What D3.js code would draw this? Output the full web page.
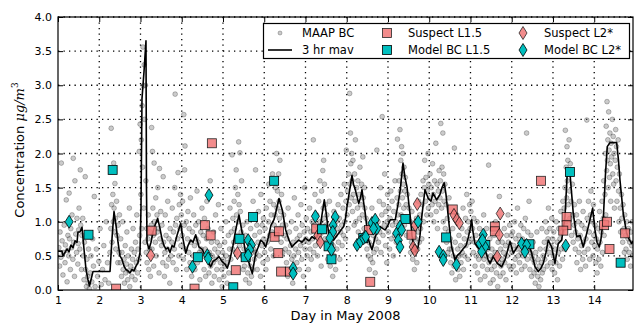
<!DOCTYPE html>
<html>
<head>
<meta charset="utf-8">
<script src="https://cdn.jsdelivr.net/npm/d3@7"></script>
<style>
body { margin: 0; background: #fff; }
svg { display: block; font-family: "DejaVu Sans", sans-serif; }
</style>
</head>
<body>
<svg id="chart" width="635" height="328"></svg>
<script>
// ticks
const xTicks = [1, 2, 3, 4, 5, 6, 7, 8, 9, 10, 11, 12, 13, 14];
const yTicks = [0, 0.5, 1, 1.5, 2, 2.5, 3, 3.5, 4];

// 3 hr moving average [day, ug/m3]
const mavPoints = [
  [1.000,0.57],[1.097,0.57],[1.121,0.50],[1.170,0.55],[1.218,0.60],[1.267,0.56],[1.315,0.66],[1.364,0.62],[1.412,0.72],[1.461,0.70],
  [1.485,0.85],[1.533,0.85],[1.582,0.92],[1.630,0.60],[1.679,0.30],[1.727,0.15],[1.764,0.06],[1.800,0.15],[1.848,0.27],[2.261,0.27],
  [2.309,0.75],[2.358,1.15],[2.406,0.95],[2.455,0.70],[2.503,0.50],[2.552,0.45],[2.600,0.35],[2.648,0.30],[2.697,0.28],[2.745,0.25],
  [2.794,0.30],[2.842,0.28],[2.891,0.35],[2.939,0.40],[2.988,0.55],[3.012,1.20],[3.036,2.80],[3.085,3.20],[3.133,3.65],[3.145,1.50],
  [3.158,0.70],[3.206,0.60],[3.255,0.70],[3.303,0.85],[3.352,0.95],[3.417,1.05],[3.473,0.90],[3.521,0.75],[3.570,0.65],[3.618,0.60],
  [3.667,0.62],[3.715,0.55],[3.764,0.65],[3.812,0.63],[3.885,0.80],[3.975,0.98],[4.030,0.75],[4.096,0.54],[4.152,0.65],[4.217,0.73],
  [4.273,0.70],[4.338,0.81],[4.418,0.63],[4.491,0.60],[4.539,0.54],[4.612,0.45],[4.702,0.34],[4.758,0.42],[4.830,0.45],[4.903,0.49],
  [4.976,0.42],[5.048,0.38],[5.104,0.32],[5.170,0.45],[5.242,0.65],[5.308,0.88],[5.388,1.10],[5.461,0.85],[5.550,0.54],[5.630,0.40],
  [5.710,0.24],[5.793,0.54],[5.848,0.62],[5.914,0.73],[5.970,0.70],[6.035,0.63],[6.091,0.75],[6.164,0.95],[6.236,1.03],[6.285,1.15],
  [6.358,1.34],[6.438,1.17],[6.520,0.88],[6.600,0.73],[6.673,0.63],[6.745,0.68],[6.835,0.73],[6.915,0.70],[6.995,0.76],[7.085,0.72],
  [7.158,0.78],[7.230,0.75],[7.279,0.78],[7.352,0.90],[7.400,1.10],[7.456,1.32],[7.497,1.15],[7.521,1.03],[7.562,0.83],[7.618,0.78],
  [7.684,0.73],[7.739,0.78],[7.805,0.83],[7.861,0.88],[7.926,0.93],[7.970,1.05],[8.006,1.22],[8.067,1.45],[8.127,1.68],[8.164,1.55],
  [8.207,1.47],[8.290,1.27],[8.333,1.35],[8.370,1.47],[8.406,1.30],[8.450,1.12],[8.491,0.90],[8.532,0.73],[8.612,0.59],[8.692,0.78],
  [8.758,0.88],[8.813,0.93],[8.879,0.90],[8.935,0.88],[9.000,0.95],[9.056,1.03],[9.177,1.03],[9.242,1.25],[9.298,1.47],[9.364,1.86],
  [9.412,1.65],[9.461,1.51],[9.541,1.07],[9.582,0.80],[9.630,0.60],[9.679,0.55],[9.727,0.62],[9.776,0.80],[9.824,1.10],[9.897,1.47],
  [9.977,1.34],[10.042,1.30],[10.091,1.42],[10.181,1.32],[10.261,1.40],[10.309,1.50],[10.365,1.57],[10.406,1.40],[10.486,0.93],[10.544,0.63],
  [10.624,0.44],[10.673,0.50],[10.745,0.54],[10.818,0.60],[10.891,0.65],[10.939,0.75],[10.988,0.88],[11.029,1.03],[11.061,0.85],[11.109,0.68],
  [11.182,0.62],[11.230,0.59],[11.303,0.62],[11.376,0.55],[11.424,0.45],[11.473,0.39],[11.553,0.49],[11.594,0.45],[11.650,0.39],[11.715,0.36],
  [11.756,0.34],[11.836,0.44],[11.909,0.60],[11.958,0.71],[12.038,0.54],[12.103,0.60],[12.152,0.65],[12.241,0.68],[12.297,0.72],[12.362,0.70],
  [12.418,0.65],[12.484,0.54],[12.564,0.34],[12.644,0.27],[12.709,0.32],[12.765,0.39],[12.830,0.55],[12.885,0.73],[12.968,0.63],[13.048,0.39],
  [13.128,0.68],[13.211,0.73],[13.291,1.07],[13.347,1.73],[13.412,1.71],[13.492,1.12],[13.575,0.78],[13.655,0.80],[13.735,0.63],[13.817,0.83],
  [13.897,1.03],[13.962,1.20],[14.018,0.88],[14.067,0.70],[14.123,0.63],[14.164,0.75],[14.219,1.03],[14.273,1.70],[14.316,2.10],[14.382,2.16],
  [14.544,2.16],[14.588,1.90],[14.624,1.61],[14.704,1.12],[14.787,0.83],[14.842,0.75],[14.908,0.68],[14.939,0.72]
];

// MAAP BC samples [day, ug/m3]
const maapPoints = [
  [1.02,0.62],[1.04,0.35],[1.05,0.85],[1.07,0.48],[1.08,1.86],[1.1,0.72],[1.12,0.22],[1.13,0.55],[1.15,0.95],[1.17,0.4],[1.18,0.66],[1.2,1.32],[1.22,0.12],[1.23,0.58],[1.24,0.8],
  [1.26,0.5],[1.27,1.42],[1.28,0.75],[1.3,0.3],[1.31,0.9],[1.33,0.62],[1.34,1.1],[1.36,0.45],[1.37,1.93],[1.38,0.7],[1.4,0.2],[1.41,1.6],[1.43,0.82],[1.45,0.55],[1.46,1.05],[1.48,0.38],[1.49,0.68],
  [1.5,0.88],[1.51,1.2],[1.53,0.6],[1.54,1.76],[1.55,0.95],[1.57,0.3],[1.58,0.8],[1.6,1.05],[1.61,0.5],[1.63,0.15],[1.64,0.7],[1.66,1.66],[1.67,0.3],[1.69,0.05],[1.7,0.45],[1.72,0.2],[1.73,0.1],[1.74,0.6],
  [1.76,0.02],[1.78,0.25],[1.8,0.5],[1.82,0.12],[1.84,0.75],[1.86,0.35],[1.88,1.37],[1.9,0.05],[1.93,0.6],[1.96,0.2],[1.99,0.42],[2.02,0.9],[2.05,0.08],[2.08,0.3],[2.11,0.65],[2.14,0.15],[2.17,1.0],[2.2,0.4],[2.23,0.1],
  [2.26,0.55],[2.28,0.9],[2.29,2.37],[2.3,1.25],[2.31,0.7],[2.33,1.4],[2.34,1.0],[2.35,1.86],[2.36,1.2],[2.37,0.85],[2.38,1.56],[2.39,1.05],[2.4,0.6],[2.42,1.3],[2.43,0.8],[2.45,0.4],[2.46,0.95],[2.48,0.55],[2.49,1.1],
  [2.51,0.4],[2.52,0.75],[2.54,0.2],[2.55,0.55],[2.57,1.0],[2.58,0.3],[2.6,0.45],[2.61,0.1],[2.63,0.65],[2.64,0.25],[2.66,0.38],[2.67,0.85],[2.69,0.15],[2.7,0.5],[2.72,0.28],[2.73,1.2],[2.74,0.05],
  [2.76,0.35],[2.78,0.6],[2.79,0.2],[2.81,0.45],[2.82,0.9],[2.84,0.3],[2.85,0.55],[2.87,0.15],[2.88,0.7],[2.9,0.4],[2.91,1.1],[2.93,0.25],[2.94,0.6],[2.96,0.45],[2.97,2.03],[2.98,0.8],[2.99,2.43],
  [3.01,1.4],[3.02,2.2],[3.03,0.9],[3.04,2.7],[3.05,1.8],[3.06,3.56],[3.07,2.99],[3.08,1.2],[3.09,3.3],[3.1,2.5],[3.11,0.7],[3.12,3.0],[3.13,1.6],[3.14,0.55],[3.15,0.9],[3.16,0.4],[3.18,0.75],[3.19,1.1],[3.2,0.3],[3.22,0.6],[3.23,0.85],[3.24,0.2],
  [3.26,0.95],[3.27,2.38],[3.28,0.6],[3.29,2.03],[3.3,1.2],[3.31,0.8],[3.32,0.35],[3.33,1.86],[3.34,1.0],[3.36,0.7],[3.37,1.35],[3.38,0.5],[3.4,1.1],[3.41,0.85],[3.42,1.5],[3.43,0.9],[3.45,0.25],[3.46,1.78],[3.47,0.75],[3.49,1.15],
  [3.51,0.65],[3.52,0.95],[3.54,0.4],[3.55,1.66],[3.56,0.7],[3.58,0.2],[3.59,0.55],[3.6,1.1],[3.62,0.8],[3.63,0.35],[3.65,0.6],[3.66,1.3],[3.68,0.45],[3.69,0.75],[3.71,0.1],[3.72,0.9],[3.74,0.5],
  [3.76,0.7],[3.77,1.2],[3.79,0.4],[3.8,0.85],[3.82,0.6],[3.83,1.5],[3.84,2.87],[3.85,0.95],[3.87,0.3],[3.88,1.05],[3.9,0.75],[3.91,1.72],[3.93,0.5],[3.94,1.25],[3.96,0.9],[3.97,1.4],[3.98,0.65],[3.99,1.1],
  [4.01,0.8],[4.02,1.3],[4.04,0.45],[4.05,2.57],[4.06,0.95],[4.07,1.76],[4.08,2.11],[4.09,0.6],[4.11,1.0],[4.12,0.3],[4.14,0.75],[4.15,1.15],[4.17,0.55],[4.18,0.9],[4.2,0.4],[4.21,1.35],[4.23,0.7],[4.24,0.2],
  [4.26,0.85],[4.28,0.5],[4.29,1.1],[4.31,0.65],[4.32,0.3],[4.34,0.95],[4.35,0.75],[4.37,1.45],[4.38,0.4],[4.4,0.7],[4.41,1.0],[4.43,0.55],[4.44,0.15],[4.46,0.85],[4.47,0.6],[4.49,1.2],
  [4.51,0.5],[4.52,0.8],[4.54,0.3],[4.55,1.05],[4.57,0.6],[4.58,0.2],[4.6,0.75],[4.61,1.3],[4.63,0.45],[4.64,0.9],[4.66,0.25],[4.67,0.55],[4.69,1.6],[4.7,0.35],[4.72,0.7],[4.73,0.1],[4.74,0.5],
  [4.76,0.4],[4.77,0.85],[4.79,0.2],[4.8,0.6],[4.82,1.1],[4.83,0.45],[4.85,0.3],[4.86,0.7],[4.88,0.55],[4.89,1.25],[4.91,0.15],[4.92,0.65],[4.94,0.4],[4.95,0.9],[4.97,0.3],[4.98,0.05],[4.99,0.55],
  [5.01,0.45],[5.02,0.2],[5.04,0.7],[5.05,0.35],[5.07,1.0],[5.08,0.5],[5.1,0.1],[5.11,0.4],[5.13,0.8],[5.14,0.25],[5.16,0.6],[5.17,1.2],[5.19,0.45],[5.2,0.85],[5.22,1.98],[5.23,0.6],[5.24,1.05],
  [5.26,0.7],[5.27,1.3],[5.28,0.9],[5.3,1.5],[5.31,0.55],[5.32,1.76],[5.33,1.1],[5.35,0.8],[5.36,1.4],[5.37,1.0],[5.38,2.17],[5.39,1.25],[5.4,0.65],[5.41,2.01],[5.42,1.15],[5.44,0.85],[5.45,1.6],[5.46,0.5],[5.48,0.95],[5.49,0.3],
  [5.51,0.6],[5.52,0.35],[5.54,0.8],[5.55,0.15],[5.57,0.5],[5.58,1.0],[5.6,0.25],[5.61,0.45],[5.63,0.7],[5.64,0.1],[5.66,0.35],[5.67,0.9],[5.69,0.2],[5.7,0.55],[5.72,0.3],[5.73,1.3],[5.74,0.6],
  [5.76,0.45],[5.77,0.8],[5.79,1.76],[5.8,0.55],[5.82,0.95],[5.83,0.3],[5.85,0.7],[5.86,1.15],[5.88,0.5],[5.89,0.85],[5.91,0.2],[5.92,1.4],[5.94,0.65],[5.95,0.95],[5.97,0.4],[5.98,1.05],[5.99,0.75],
  [6.01,0.55],[6.02,0.9],[6.04,0.3],[6.05,1.2],[6.07,0.7],[6.08,0.45],[6.1,1.0],[6.11,1.55],[6.13,0.8],[6.14,1.3],[6.16,0.6],[6.17,1.1],[6.19,0.85],[6.2,1.7],[6.22,0.5],[6.23,1.25],[6.24,0.95],
  [6.26,1.1],[6.27,1.5],[6.28,0.8],[6.3,2.0],[6.31,1.2],[6.32,1.45],[6.34,0.9],[6.35,1.7],[6.36,1.3],[6.37,1.05],[6.38,1.9],[6.4,1.15],[6.41,0.7],[6.42,1.4],[6.44,0.95],[6.45,0.55],[6.47,1.1],[6.48,0.8],
  [6.51,0.6],[6.52,0.95],[6.54,0.4],[6.55,0.75],[6.57,0.2],[6.58,1.2],[6.6,0.55],[6.61,0.85],[6.63,0.3],[6.64,0.65],[6.66,1.0],[6.67,0.45],[6.69,0.1],[6.7,0.7],[6.72,0.5],[6.73,1.35],[6.74,0.25],
  [6.76,0.6],[6.77,0.9],[6.79,0.4],[6.8,0.75],[6.82,1.1],[6.83,0.55],[6.85,0.3],[6.86,0.8],[6.88,0.65],[6.89,1.25],[6.91,0.45],[6.92,0.95],[6.94,0.7],[6.95,0.2],[6.97,0.85],[6.98,1.5],[6.99,0.6],
  [7.01,0.75],[7.02,1.05],[7.04,0.5],[7.05,0.9],[7.07,0.3],[7.08,0.7],[7.1,1.2],[7.11,0.6],[7.13,0.85],[7.14,0.45],[7.16,1.0],[7.17,0.75],[7.19,2.2],[7.2,0.55],[7.22,0.95],[7.23,1.4],[7.24,0.65],
  [7.26,0.8],[7.27,1.1],[7.29,0.5],[7.3,0.9],[7.32,1.3],[7.33,0.7],[7.35,1.6],[7.36,1.0],[7.38,0.35],[7.39,1.45],[7.41,0.85],[7.42,1.75],[7.43,1.2],[7.44,1.9],[7.45,1.05],[7.46,1.55],[7.47,0.75],[7.48,1.25],[7.49,0.95],
  [7.51,0.7],[7.52,1.1],[7.54,0.45],[7.55,0.85],[7.57,0.6],[7.58,1.3],[7.6,0.35],[7.61,0.75],[7.63,0.55],[7.64,0.95],[7.66,0.2],[7.67,0.65],[7.69,1.15],[7.7,0.5],[7.72,0.8],[7.73,0.3],[7.74,1.0],
  [7.76,0.6],[7.77,0.9],[7.79,1.25],[7.8,0.7],[7.82,1.05],[7.83,0.45],[7.85,0.85],[7.86,1.4],[7.88,0.95],[7.89,0.65],[7.91,1.2],[7.92,0.8],[7.94,1.55],[7.95,1.0],[7.97,0.75],[7.98,1.3],[7.99,2.05],
  [8.01,1.1],[8.02,1.45],[8.03,0.9],[8.05,1.7],[8.06,1.25],[8.07,2.88],[8.08,1.55],[8.09,2.3],[8.1,1.85],[8.11,1.35],[8.12,2.0],[8.13,1.6],[8.14,1.15],[8.15,1.9],[8.16,1.4],[8.18,0.95],[8.19,1.7],[8.2,1.3],[8.21,2.2],[8.22,1.0],[8.24,1.5],
  [8.26,1.2],[8.27,1.6],[8.28,0.85],[8.3,1.4],[8.31,1.05],[8.32,1.8],[8.34,1.25],[8.35,0.7],[8.36,1.55],[8.38,1.1],[8.39,1.95],[8.4,1.35],[8.42,0.9],[8.43,1.5],[8.44,1.2],[8.46,0.75],[8.47,1.05],[8.49,0.6],
  [8.51,0.85],[8.52,0.5],[8.54,0.7],[8.55,0.3],[8.57,0.95],[8.58,0.45],[8.6,0.65],[8.61,1.2],[8.63,0.4],[8.64,0.8],[8.66,0.55],[8.67,1.05],[8.69,0.25],[8.7,0.75],[8.72,0.6],[8.73,2.05],[8.74,0.9],
  [8.76,1.0],[8.77,0.7],[8.79,1.3],[8.8,0.85],[8.82,1.5],[8.83,0.55],[8.85,1.1],[8.86,2.54],[8.88,0.8],[8.89,1.25],[8.91,0.95],[8.92,1.7],[8.94,0.65],[8.95,1.15],[8.97,0.4],[8.98,1.0],[8.99,1.4],
  [9.01,0.85],[9.02,1.2],[9.04,0.6],[9.05,1.05],[9.07,1.45],[9.08,0.75],[9.1,1.3],[9.11,0.95],[9.13,0.5],[9.14,1.15],[9.16,0.8],[9.17,1.6],[9.19,1.0],[9.2,0.7],[9.22,1.35],[9.23,2.21],[9.24,1.1],
  [9.26,1.25],[9.27,1.6],[9.28,0.9],[9.29,2.35],[9.3,1.45],[9.31,1.9],[9.32,1.1],[9.33,2.1],[9.34,1.7],[9.35,1.35],[9.36,2.0],[9.37,1.55],[9.38,1.2],[9.39,1.8],[9.4,0.95],[9.41,1.45],[9.42,1.65],[9.44,1.25],[9.45,0.8],[9.47,1.4],[9.48,1.05],
  [9.51,1.2],[9.52,0.8],[9.54,1.0],[9.55,0.55],[9.57,0.7],[9.58,1.15],[9.6,0.45],[9.61,0.65],[9.63,0.9],[9.64,0.3],[9.66,0.55],[9.67,0.75],[9.69,1.05],[9.7,0.4],[9.72,0.6],[9.73,0.85],[9.74,1.3],
  [9.76,0.7],[9.77,1.1],[9.79,0.9],[9.8,1.4],[9.82,0.75],[9.83,1.25],[9.85,1.6],[9.86,1.0],[9.88,1.5],[9.89,1.9],[9.91,1.3],[9.92,1.65],[9.94,1.1],[9.95,1.45],[9.97,2.0],[9.98,1.2],[9.99,1.55],
  [10.01,1.35],[10.02,1.7],[10.04,1.1],[10.05,1.5],[10.07,1.25],[10.08,1.85],[10.1,1.4],[10.11,1.0],[10.13,1.6],[10.14,1.3],[10.16,2.15],[10.17,1.15],[10.19,1.55],[10.2,0.9],[10.22,1.45],[10.23,1.25],[10.24,1.75],
  [10.26,1.35],[10.27,1.6],[10.28,2.44],[10.3,1.2],[10.31,1.8],[10.32,1.45],[10.33,2.3],[10.34,1.0],[10.35,1.7],[10.36,1.3],[10.38,1.55],[10.39,0.9],[10.41,1.25],[10.42,0.7],[10.44,1.05],[10.45,0.55],[10.47,0.85],[10.48,1.35],[10.49,0.6],
  [10.51,0.75],[10.52,0.4],[10.54,0.6],[10.55,0.25],[10.57,0.9],[10.58,0.5],[10.6,0.35],[10.61,2.08],[10.63,0.7],[10.64,0.15],[10.66,0.45],[10.67,1.1],[10.69,0.6],[10.7,0.3],[10.72,0.8],[10.73,0.5],[10.74,0.2],
  [10.76,0.65],[10.77,0.4],[10.79,0.9],[10.8,0.55],[10.82,1.2],[10.83,0.3],[10.85,0.75],[10.86,0.5],[10.88,1.05],[10.89,0.65],[10.91,1.4],[10.92,0.85],[10.94,0.45],[10.95,1.0],[10.97,0.7],[10.98,1.25],[10.99,0.9],
  [11.01,1.15],[11.02,0.75],[11.04,1.3],[11.05,0.9],[11.07,0.55],[11.08,1.05],[11.1,0.7],[11.11,0.35],[11.13,0.8],[11.14,0.5],[11.16,1.0],[11.17,0.25],[11.19,0.65],[11.2,0.45],[11.22,0.9],[11.23,0.6],[11.24,0.15],
  [11.26,0.55],[11.27,0.8],[11.29,0.35],[11.3,0.65],[11.32,1.1],[11.33,0.45],[11.35,0.2],[11.36,0.7],[11.38,0.5],[11.39,0.9],[11.41,0.3],[11.42,0.6],[11.44,1.83],[11.45,0.4],[11.47,0.75],[11.48,0.1],[11.49,0.5],
  [11.51,0.3],[11.52,0.6],[11.54,0.45],[11.55,0.15],[11.57,0.8],[11.58,0.35],[11.6,0.55],[11.61,1.0],[11.63,0.25],[11.64,0.5],[11.66,0.05],[11.67,0.7],[11.69,0.4],[11.7,1.37],[11.72,0.2],[11.73,0.6],[11.74,0.35],
  [11.76,0.45],[11.77,0.7],[11.79,0.25],[11.8,0.55],[11.82,0.9],[11.83,0.4],[11.85,0.65],[11.86,0.15],[11.88,0.8],[11.89,0.5],[11.91,1.1],[11.92,0.7],[11.94,0.35],[11.95,0.95],[11.97,0.6],[11.98,0.3],[11.99,0.8],
  [12.01,0.55],[12.02,0.85],[12.04,0.35],[12.05,0.65],[12.07,1.0],[12.08,0.45],[12.1,0.75],[12.11,0.25],[12.13,0.6],[12.14,1.2],[12.16,0.5],[12.17,0.8],[12.19,0.4],[12.2,0.7],[12.22,0.95],[12.23,0.55],[12.24,0.3],
  [12.26,0.75],[12.27,0.5],[12.29,0.9],[12.3,0.6],[12.32,0.35],[12.33,1.05],[12.35,0.7],[12.36,2.3],[12.38,0.45],[12.39,0.85],[12.41,0.6],[12.42,1.3],[12.44,0.3],[12.45,0.55],[12.47,0.8],[12.48,0.2],[12.49,0.5],
  [12.51,0.45],[12.52,0.7],[12.54,0.25],[12.55,0.4],[12.57,0.1],[12.58,0.55],[12.6,0.3],[12.61,0.85],[12.63,0.2],[12.64,0.45],[12.66,0.05],[12.67,0.35],[12.69,0.6],[12.7,0.15],[12.72,0.4],[12.73,0.9],[12.74,0.25],
  [12.76,0.5],[12.77,0.3],[12.79,0.7],[12.8,0.45],[12.82,1.0],[12.83,0.6],[12.85,0.85],[12.86,0.35],[12.88,0.75],[12.89,1.2],[12.91,0.55],[12.92,0.9],[12.94,0.4],[12.95,0.65],[12.97,1.05],[12.98,0.3],[12.99,0.75],
  [13.01,0.5],[13.02,0.85],[13.04,0.25],[13.05,0.6],[13.07,0.4],[13.08,1.0],[13.1,0.7],[13.11,0.15],[13.13,0.55],[13.14,0.9],[13.16,0.35],[13.17,0.75],[13.19,1.15],[13.2,0.6],[13.22,0.85],[13.23,0.45],[13.24,1.3],
  [13.26,0.9],[13.27,1.2],[13.28,0.6],[13.29,1.5],[13.3,2.34],[13.31,1.0],[13.32,1.8],[13.33,1.35],[13.34,2.1],[13.35,1.6],[13.36,1.9],[13.37,1.25],[13.38,1.7],[13.39,2.2],[13.4,1.45],[13.41,1.05],[13.42,1.85],[13.44,1.3],[13.45,0.8],[13.47,1.55],[13.48,1.1],[13.49,0.7],
  [13.51,0.95],[13.52,1.25],[13.54,0.6],[13.55,0.85],[13.57,1.1],[13.58,0.4],[13.6,0.75],[13.61,1.0],[13.63,0.55],[13.64,1.3],[13.66,0.8],[13.67,0.3],[13.69,0.65],[13.7,0.95],[13.72,0.45],[13.73,1.15],[13.74,0.7],
  [13.76,0.55],[13.77,0.9],[13.79,0.35],[13.8,0.75],[13.82,2.49],[13.83,1.05],[13.85,0.6],[13.86,1.3],[13.88,0.85],[13.89,0.45],[13.91,1.1],[13.92,1.45],[13.94,0.7],[13.95,1.0],[13.97,0.5],[13.98,1.25],[13.99,0.8],
  [14.01,0.65],[14.02,0.95],[14.04,0.4],[14.05,0.75],[14.07,0.25],[14.08,0.6],[14.1,0.9],[14.11,0.45],[14.13,1.15],[14.14,0.7],[14.16,0.35],[14.17,0.85],[14.19,1.3],[14.2,0.55],[14.22,1.05],[14.23,1.6],[14.24,0.8],
  [14.26,1.4],[14.27,2.0],[14.28,1.1],[14.29,2.4],[14.3,1.75],[14.31,2.76],[14.32,1.9],[14.33,2.2],[14.34,1.5],[14.35,2.61],[14.36,2.05],[14.37,1.65],[14.38,2.3],[14.39,1.85],[14.4,1.3],[14.41,2.15],[14.42,1.95],[14.44,2.5],[14.45,1.7],[14.46,2.25],[14.47,1.55],[14.48,2.0],[14.49,1.2],
  [14.51,1.9],[14.52,2.35],[14.53,1.6],[14.54,2.1],[14.55,1.3],[14.56,1.8],[14.58,2.2],[14.59,1.45],[14.6,1.0],[14.61,1.7],[14.63,1.2],[14.64,0.85],[14.66,1.4],[14.67,1.05],[14.69,0.7],[14.7,1.25],[14.72,0.9],[14.73,0.55],[14.74,1.1],
  [14.76,0.8],[14.77,0.6],[14.79,1.0],[14.8,0.45],[14.82,0.75],[14.83,0.9],[14.85,0.55],[14.86,0.7],[14.88,0.35],[14.89,0.85],[14.91,0.65],[14.92,1.0],[14.93,0.5]
];

// flagged / model points [day, ug/m3]
const suspectL15 = [
  [2.41,0.02],[3.27,0.87],[4.73,2.15],[4.56,0.95],[4.70,0.80],[4.31,0.02],[5.31,0.29],[6.25,0.78],[6.36,0.86],[6.34,0.54],
  [6.41,0.27],[6.62,0.27],[8.57,0.12],[7.26,0.90],[8.54,0.88],[9.57,0.81],[10.57,1.18],[11.59,0.93],[11.59,0.86],[12.71,1.60],
  [13.33,1.07],[13.33,0.95],[13.25,0.87],[14.24,0.95],[14.31,1.00],[14.37,0.60],[14.75,0.83]
];
const suspectL2 = [
  [3.25,0.51],[5.35,0.54],[7.30,0.80],[7.36,0.70],[9.71,1.26],[9.66,0.95],[9.61,0.63],[9.65,0.58],[10.60,1.10],[10.67,1.03],
  [10.73,0.98],[11.72,1.12],[11.70,0.81],[11.65,0.49]
];
const modelL15 = [
  [1.74,0.81],[2.325,1.76],[5.25,0.04],[4.39,0.48],[5.73,1.07],[5.40,0.75],[5.55,0.48],[6.24,1.60],[7.40,0.89],[7.56,0.64],
  [7.63,0.45],[9.42,1.04],[8.40,0.76],[10.41,0.77],[11.36,0.66],[12.43,0.67],[13.41,1.73],[14.64,0.40]
];
const modelL2 = [
  [1.27,1.00],[4.66,1.39],[4.26,0.34],[4.62,0.51],[4.64,0.46],[5.61,0.73],[5.69,0.66],[5.65,0.59],[5.61,0.51],[6.70,0.32],
  [6.70,0.24],[7.24,1.08],[7.72,1.07],[7.67,0.95],[7.66,0.85],[7.59,0.76],[7.63,0.59],[8.25,0.66],[8.33,0.71],[8.41,0.76],
  [8.46,0.78],[8.61,0.98],[8.69,1.03],[8.73,0.90],[8.65,0.90],[9.21,0.83],[9.29,0.93],[9.33,0.88],[9.25,0.73],[9.29,0.63],
  [9.73,1.00],[10.24,0.56],[10.34,0.50],[10.34,0.44],[10.66,0.37],[11.23,0.68],[11.31,0.81],[11.35,0.63],[11.27,0.56],[11.29,0.73],
  [12.24,0.68],[12.36,0.66],[12.32,0.56],[13.31,0.65]
];

const plotL = 58, plotR = 633, plotT = 17, plotB = 290;
const salmon = "#f07878", teal = "#00bfbf";
const diamondPath = "M0,-6.5L4,0L0,6.5L-4,0Z";

const svg = d3.select("#chart");
const x = d3.scaleLinear().domain([1, 14.94]).range([plotL, plotR]);
const y = d3.scaleLinear().domain([0, 4]).range([plotB, plotT]);

svg.append("defs").append("clipPath").attr("id", "plot-clip")
    .append("rect").attr("x", plotL).attr("y", plotT)
    .attr("width", plotR - plotL).attr("height", plotB - plotT);

// dotted grid
const grid = svg.append("g").attr("stroke", "#000").attr("stroke-width", 1.3)
    .attr("stroke-dasharray", "1.3,4.2");
grid.selectAll(".gx").data(xTicks.slice(1)).join("line")
    .attr("x1", d => x(d)).attr("x2", d => x(d))
    .attr("y1", plotT).attr("y2", plotB);
grid.selectAll(".gy").data(yTicks.slice(1)).join("line")
    .attr("x1", plotL).attr("x2", plotR)
    .attr("y1", d => y(d)).attr("y2", d => y(d));

const plot = svg.append("g").attr("clip-path", "url(#plot-clip)");

plot.append("g").selectAll("circle").data(maapPoints).join("circle")
    .attr("cx", d => x(d[0])).attr("cy", d => y(d[1])).attr("r", 2.4)
    .attr("fill", "#6e6e6e").attr("fill-opacity", 0.36)
    .attr("stroke", "#000").attr("stroke-opacity", 0.42).attr("stroke-width", 0.6);

plot.append("path").datum(mavPoints)
    .attr("fill", "none").attr("stroke", "#000").attr("stroke-width", 1.6)
    .attr("stroke-linejoin", "round")
    .attr("d", d3.line().x(d => x(d[0])).y(d => y(d[1])));

function squares(data, fill, alpha) {
    plot.append("g").selectAll("rect").data(data).join("rect")
        .attr("x", d => x(d[0]) - 4.5).attr("y", d => y(d[1]) - 4.5)
        .attr("width", 9).attr("height", 9)
        .attr("fill", fill).attr("stroke", "#000").attr("stroke-width", 0.8)
        .attr("opacity", alpha);
}
function diamonds(data, fill, alpha) {
    plot.append("g").selectAll("path").data(data).join("path")
        .attr("transform", d => `translate(${x(d[0])},${y(d[1])})`)
        .attr("d", diamondPath)
        .attr("fill", fill).attr("stroke", "#000").attr("stroke-width", 0.8)
        .attr("opacity", alpha);
}
squares(suspectL15, salmon, 0.85);
diamonds(suspectL2, salmon, 0.85);
squares(modelL15, teal, 1);
diamonds(modelL2, teal, 1);

// frame
svg.append("rect").attr("x", plotL).attr("y", plotT)
    .attr("width", plotR - plotL).attr("height", plotB - plotT)
    .attr("fill", "none").attr("stroke", "#000").attr("stroke-width", 1.2);

// axes, ticks pointing in
function styleAxis(g) {
    g.select(".domain").remove();
    g.attr("font-family", "DejaVu Sans, sans-serif").attr("font-size", 11);
    g.selectAll(".tick line").attr("stroke", "#000");
    g.selectAll(".tick text").attr("fill", "#000");
}
svg.append("g").attr("transform", `translate(0,${plotB})`)
    .call(d3.axisBottom(x).tickValues(xTicks).tickSize(-5).tickPadding(6).tickFormat(d3.format("d")))
    .call(styleAxis);
svg.append("g").attr("transform", `translate(${plotL},0)`)
    .call(d3.axisLeft(y).tickValues(yTicks).tickSize(-5).tickPadding(6).tickFormat(d3.format(".1f")))
    .call(styleAxis);
svg.append("g").attr("transform", `translate(0,${plotT})`)
    .call(d3.axisTop(x).tickValues(xTicks).tickSize(-5).tickFormat(""))
    .call(styleAxis);
svg.append("g").attr("transform", `translate(${plotR},0)`)
    .call(d3.axisRight(y).tickValues(yTicks).tickSize(-5).tickFormat(""))
    .call(styleAxis);

// axis titles
svg.append("text").attr("x", (plotL + plotR) / 2).attr("y", 320)
    .attr("text-anchor", "middle").attr("font-size", 13).text("Day in May 2008");

const yl = svg.append("text").attr("transform", "translate(24,150) rotate(-90)")
    .attr("text-anchor", "middle").attr("font-size", 13);
yl.append("tspan").text("Concentration ");
yl.append("tspan").attr("font-family", "DejaVu Serif, serif").attr("font-style", "italic").text("μg/m");
yl.append("tspan").attr("font-family", "DejaVu Serif, serif").attr("font-size", 9).attr("dy", -6).text("3");

// legend
const lg = svg.append("g").attr("font-size", 11.5);
lg.append("rect").attr("x", 263.5).attr("y", 23.5).attr("width", 366).attr("height", 35)
    .attr("fill", "#fff").attr("stroke", "#000").attr("stroke-width", 1.2);
const rowY = [33, 50];
lg.append("circle").attr("cx", 280).attr("cy", rowY[0]).attr("r", 2)
    .attr("fill", "#6e6e6e").attr("fill-opacity", 0.36)
    .attr("stroke", "#000").attr("stroke-opacity", 0.42).attr("stroke-width", 0.6);
lg.append("line").attr("x1", 268).attr("x2", 292).attr("y1", rowY[1]).attr("y2", rowY[1])
    .attr("stroke", "#000").attr("stroke-width", 1.6);
lg.append("rect").attr("x", 382.5).attr("y", rowY[0] - 4.5).attr("width", 9).attr("height", 9)
    .attr("fill", salmon).attr("stroke", "#000").attr("stroke-width", 0.8).attr("opacity", 0.85);
lg.append("rect").attr("x", 382.5).attr("y", rowY[1] - 4.5).attr("width", 9).attr("height", 9)
    .attr("fill", teal).attr("stroke", "#000").attr("stroke-width", 0.8);
lg.append("path").attr("transform", `translate(523,${rowY[0]})`).attr("d", diamondPath)
    .attr("fill", salmon).attr("stroke", "#000").attr("stroke-width", 0.8).attr("opacity", 0.85);
lg.append("path").attr("transform", `translate(523,${rowY[1]})`).attr("d", diamondPath)
    .attr("fill", teal).attr("stroke", "#000").attr("stroke-width", 0.8);
const labels = [
    [302, rowY[0], "MAAP BC"], [302, rowY[1], "3 hr mav"],
    [408, rowY[0], "Suspect L1.5"], [408, rowY[1], "Model BC L1.5"],
    [544, rowY[0], "Suspect L2*"], [544, rowY[1], "Model BC L2*"]
];
lg.selectAll("text").data(labels).join("text")
    .attr("x", d => d[0]).attr("y", d => d[1] + 4).text(d => d[2]);
</script>
</body>
</html>
